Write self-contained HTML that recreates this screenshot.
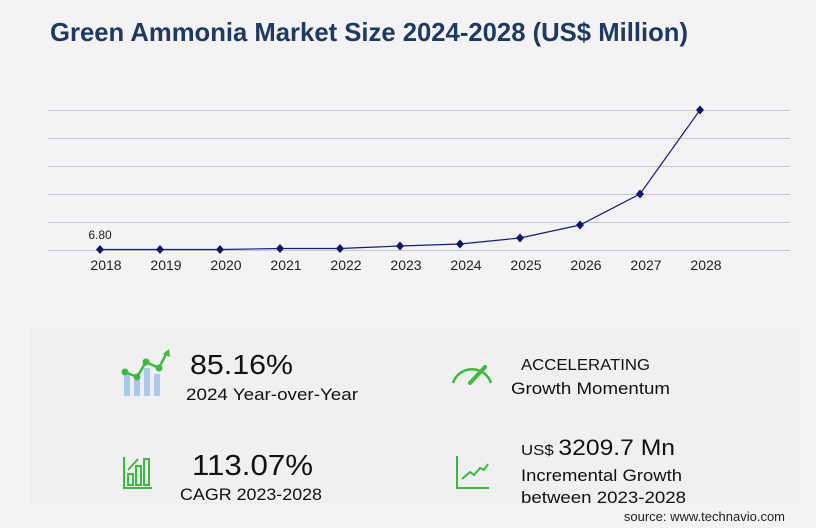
<!DOCTYPE html>
<html><head><meta charset="utf-8"><style>
html,body{margin:0;padding:0;background:#f3f3f5;}
svg{display:block;font-family:"Liberation Sans",sans-serif;}
</style></head><body>
<svg width="816" height="528" viewBox="0 0 816 528" xmlns="http://www.w3.org/2000/svg">
<rect width="816" height="528" fill="#f3f3f5"/>
<rect x="30" y="328" width="770" height="176" fill="#f0f0f2"/>
<text x="50" y="41" font-size="26" font-weight="bold" fill="#1f3864" textLength="638" lengthAdjust="spacingAndGlyphs">Green Ammonia Market Size 2024-2028 (US$ Million)</text>
<g stroke="#c8c8cc" stroke-width="1">
<line x1="48" y1="110.5" x2="790" y2="110.5"/>
<line x1="48" y1="138.5" x2="790" y2="138.5"/>
<line x1="48" y1="166.5" x2="790" y2="166.5"/>
<line x1="48" y1="194.5" x2="790" y2="194.5"/>
<line x1="48" y1="222.5" x2="790" y2="222.5"/>
<line x1="48" y1="250.5" x2="790" y2="250.5"/>
</g>
<polyline fill="none" stroke="#1a1a7a" stroke-width="1.2" points="100,249.5 160,249.5 220,249.5 280,248.5 340,248.5 400,246 460,244 520,238 580,225 640,194 700,110"/>
<g fill="#14146e">
<path d="M100,245l4,4.5l-4,4.5l-4,-4.5z"/>
<path d="M160,245l4,4.5l-4,4.5l-4,-4.5z"/>
<path d="M220,245l4,4.5l-4,4.5l-4,-4.5z"/>
<path d="M280,244l4,4.5l-4,4.5l-4,-4.5z"/>
<path d="M340,244l4,4.5l-4,4.5l-4,-4.5z"/>
<path d="M400,241.5l4,4.5l-4,4.5l-4,-4.5z"/>
<path d="M460,239.5l4,4.5l-4,4.5l-4,-4.5z"/>
<path d="M520,233.5l4,4.5l-4,4.5l-4,-4.5z"/>
<path d="M580,220.5l4,4.5l-4,4.5l-4,-4.5z"/>
<path d="M640,189.5l4,4.5l-4,4.5l-4,-4.5z"/>
<path d="M700,105.5l4,4.5l-4,4.5l-4,-4.5z"/>
</g>
<text x="100" y="239" font-size="12" fill="#222" text-anchor="middle">6.80</text>
<g font-size="14" fill="#222" text-anchor="middle">
<text x="106" y="270">2018</text><text x="166" y="270">2019</text><text x="226" y="270">2020</text><text x="286" y="270">2021</text><text x="346" y="270">2022</text><text x="406" y="270">2023</text><text x="466" y="270">2024</text><text x="526" y="270">2025</text><text x="586" y="270">2026</text><text x="646" y="270">2027</text><text x="706" y="270">2028</text>
</g>
<!-- icon 1 -->
<g fill="#a9c8f0"><rect x="124" y="375" width="6" height="21"/><rect x="134" y="380" width="6" height="16"/><rect x="144" y="368" width="6" height="28"/><rect x="154" y="374" width="6" height="22"/></g>
<polyline points="125,372 137,377 146,362 159,368 167,352" fill="none" stroke="#3cba3c" stroke-width="2.5"/>
<g fill="#3cba3c"><circle cx="125" cy="372" r="3.5"/><circle cx="137" cy="377" r="3.5"/><circle cx="146" cy="362" r="3.5"/><circle cx="159" cy="368" r="3.5"/><path d="M163,354l6,-5l1,8z"/></g>
<text x="190" y="374" font-size="28" fill="#111" textLength="103" lengthAdjust="spacingAndGlyphs">85.16%</text>
<text x="186" y="400" font-size="17" fill="#111" textLength="172" lengthAdjust="spacingAndGlyphs">2024 Year-over-Year</text>
<!-- gauge -->
<path d="M453,383 A20,20 0 0 1 491,383" fill="none" stroke="#3cba3c" stroke-width="2.5"/>
<line x1="470" y1="383" x2="485" y2="367" stroke="#3cba3c" stroke-width="4" stroke-linecap="round"/>
<text x="521" y="370" font-size="16" fill="#111" textLength="129" lengthAdjust="spacingAndGlyphs">ACCELERATING</text>
<text x="511" y="394" font-size="17" fill="#111" textLength="159" lengthAdjust="spacingAndGlyphs">Growth Momentum</text>
<!-- icon 3 -->
<g fill="none" stroke="#3cba3c" stroke-width="2"><polyline points="124,457 124,488 152,488"/><rect x="128" y="474" width="5" height="11"/><rect x="136" y="466" width="5" height="19"/><rect x="144" y="459" width="5" height="26"/><polyline points="128,470 138,459"/></g>
<text x="192" y="475" font-size="29" fill="#111" textLength="121" lengthAdjust="spacingAndGlyphs">113.07%</text>
<text x="180" y="500" font-size="17" fill="#111" textLength="142" lengthAdjust="spacingAndGlyphs">CAGR 2023-2028</text>
<!-- icon 4 -->
<g fill="none" stroke="#3cba3c" stroke-width="2"><polyline points="457,456 457,488 489,488"/><polyline points="462,479 470,472 474,475 480,468 484,470 488,464"/></g>
<text x="521" y="455" font-size="15" fill="#111" textLength="154" lengthAdjust="spacingAndGlyphs">US$ <tspan font-size="22">3209.7 Mn</tspan></text>
<text x="521" y="481" font-size="17" fill="#111" textLength="161" lengthAdjust="spacingAndGlyphs">Incremental Growth</text>
<text x="521" y="503" font-size="17" fill="#111" textLength="165" lengthAdjust="spacingAndGlyphs">between 2023-2028</text>
<text x="785" y="521" font-size="13" fill="#222" text-anchor="end">source: www.technavio.com</text>
</svg>
</body></html>
